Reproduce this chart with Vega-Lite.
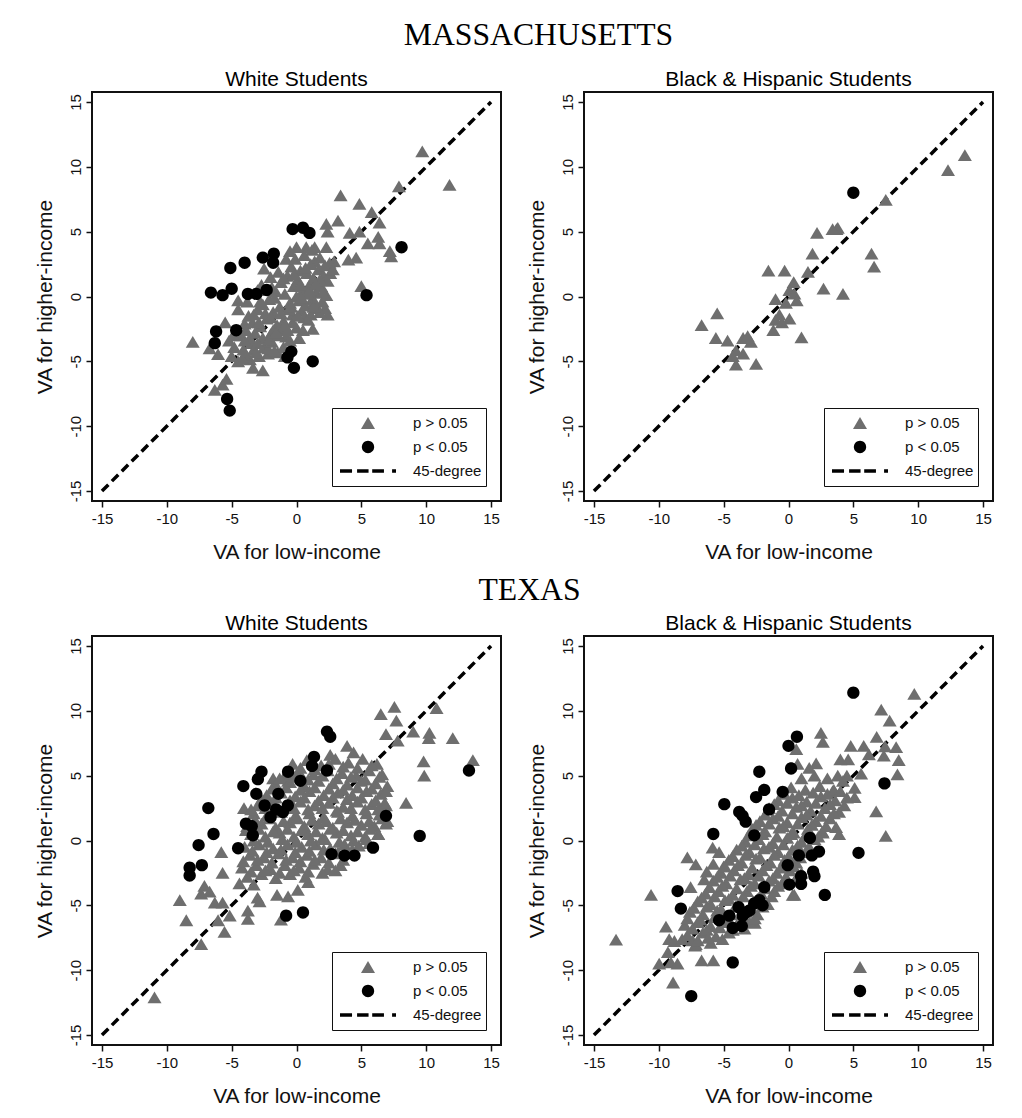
{
  "$schema": "https://vega.github.io/schema/vega-lite/v6.json",
  "background": "white",
  "padding": {"left": 33, "top": 20, "right": 5, "bottom": 5},
  "datasets": {
    "diag": [{"x": -15, "y": -15}, {"x": 15, "y": 15}],
    "maW": [
      {"x":9.7,"y":11.2,"g":"n"},{"x":11.8,"y":8.6,"g":"n"},{"x":7.9,"y":8.5,"g":"n"},{"x":3.4,"y":7.8,"g":"n"},{"x":4.85,"y":7.15,"g":"n"},{"x":5.8,"y":6.5,"g":"n"},{"x":6.4,"y":5.7,"g":"n"},{"x":6.3,"y":4.6,"g":"n"},{"x":5.5,"y":4.1,"g":"n"},{"x":6.4,"y":4.1,"g":"n"},{"x":7.2,"y":3.5,"g":"n"},{"x":7.3,"y":3.1,"g":"n"},{"x":4.6,"y":3.0,"g":"n"},{"x":4.0,"y":2.85,"g":"n"},{"x":3.2,"y":5.85,"g":"n"},{"x":2.3,"y":5.6,"g":"n"},{"x":2.4,"y":5.0,"g":"n"},{"x":4.1,"y":4.9,"g":"n"},{"x":4.85,"y":5.0,"g":"n"},{"x":5.0,"y":0.8,"g":"n"},{"x":1.4,"y":3.8,"g":"n"},{"x":0.75,"y":3.8,"g":"n"},{"x":-0.5,"y":3.5,"g":"n"},{"x":2.3,"y":3.8,"g":"n"},{"x":2.55,"y":2.6,"g":"n"},{"x":2.9,"y":2.7,"g":"n"},{"x":1.4,"y":2.7,"g":"n"},{"x":-8.0,"y":-3.5,"g":"n"},{"x":-6.7,"y":-4.0,"g":"n"},{"x":-6.3,"y":-7.2,"g":"n"},{"x":-5.7,"y":-6.8,"g":"n"},{"x":-5.4,"y":-6.35,"g":"n"},{"x":-4.5,"y":-5.0,"g":"n"},{"x":-3.6,"y":-4.85,"g":"n"},{"x":-3.35,"y":-5.5,"g":"n"},{"x":-2.6,"y":-5.7,"g":"n"},{"x":-2.2,"y":-4.4,"g":"n"},{"x":-1.45,"y":-4.3,"g":"n"},{"x":1.25,"y":-2.5,"g":"n"},{"x":2.4,"y":-1.4,"g":"n"},{"x":2.2,"y":-0.9,"g":"n"},{"x":-2.5,"y":2.15,"g":"n"},{"x":-4.5,"y":-0.3,"g":"n"},{"x":-6.05,"y":-4.45,"g":"n"},
      {"x":-4.8,"y":-3.9,"g":"n"},{"x":-4.3,"y":-3.0,"g":"n"},{"x":-4.0,"y":-2.1,"g":"n"},{"x":-3.7,"y":-1.5,"g":"n"},{"x":-3.5,"y":-3.6,"g":"n"},{"x":-3.2,"y":-2.8,"g":"n"},{"x":-3.0,"y":-1.0,"g":"n"},{"x":-2.8,"y":-2.3,"g":"n"},{"x":-2.6,"y":-0.6,"g":"n"},{"x":-2.5,"y":-3.9,"g":"n"},{"x":-2.3,"y":-1.7,"g":"n"},{"x":-2.1,"y":-0.2,"g":"n"},{"x":-2.0,"y":-2.9,"g":"n"},{"x":-1.8,"y":-1.2,"g":"n"},{"x":-1.6,"y":0.4,"g":"n"},{"x":-1.5,"y":-2.2,"g":"n"},{"x":-1.3,"y":-0.8,"g":"n"},{"x":-1.2,"y":1.1,"g":"n"},{"x":-1.0,"y":-1.9,"g":"n"},{"x":-0.9,"y":0.2,"g":"n"},{"x":-0.8,"y":-3.1,"g":"n"},{"x":-0.7,"y":1.6,"g":"n"},{"x":-0.5,"y":-0.5,"g":"n"},{"x":-0.4,"y":2.3,"g":"n"},{"x":-0.3,"y":-1.4,"g":"n"},{"x":-0.2,"y":0.8,"g":"n"},{"x":-0.1,"y":2.9,"g":"n"},{"x":0.0,"y":-2.4,"g":"n"},{"x":0.1,"y":1.3,"g":"n"},{"x":0.2,"y":-0.3,"g":"n"},{"x":0.3,"y":2.0,"g":"n"},{"x":0.4,"y":-1.1,"g":"n"},{"x":0.5,"y":0.5,"g":"n"},{"x":0.6,"y":3.2,"g":"n"},{"x":0.7,"y":-0.7,"g":"n"},{"x":0.8,"y":1.8,"g":"n"},{"x":0.9,"y":-1.8,"g":"n"},{"x":1.0,"y":0.9,"g":"n"},{"x":1.1,"y":2.5,"g":"n"},{"x":1.2,"y":-0.2,"g":"n"},{"x":1.3,"y":1.4,"g":"n"},{"x":1.5,"y":0.3,"g":"n"},{"x":1.6,"y":-0.9,"g":"n"},{"x":1.7,"y":2.1,"g":"n"},{"x":1.9,"y":0.8,"g":"n"},{"x":2.0,"y":-0.4,"g":"n"},{"x":2.1,"y":1.6,"g":"n"},{"x":2.3,"y":0.1,"g":"n"},{"x":2.4,"y":1.2,"g":"n"},{"x":1.8,"y":3.0,"g":"n"},{"x":-3.9,"y":-4.5,"g":"n"},{"x":-4.2,"y":-4.8,"g":"n"},{"x":-3.3,"y":-4.1,"g":"n"},{"x":-2.9,"y":-4.6,"g":"n"},{"x":-2.2,"y":-4.0,"g":"n"},{"x":-1.9,"y":-3.5,"g":"n"},{"x":-1.0,"y":-3.9,"g":"n"},{"x":-0.5,"y":-3.4,"g":"n"},{"x":0.2,"y":-3.2,"g":"n"},{"x":-5.2,"y":-3.4,"g":"n"},{"x":-5.5,"y":-2.0,"g":"n"},{"x":-4.5,"y":-1.0,"g":"n"},{"x":-3.8,"y":-0.4,"g":"n"},{"x":-2.7,"y":0.9,"g":"n"},{"x":-2.4,"y":-1.3,"g":"n"},{"x":-1.7,"y":-0.1,"g":"n"},{"x":-1.1,"y":-2.6,"g":"n"},{"x":-0.6,"y":-1.0,"g":"n"},{"x":0.0,"y":0.0,"g":"n"},{"x":0.3,"y":0.9,"g":"n"},{"x":0.9,"y":0.2,"g":"n"},{"x":1.4,"y":-0.4,"g":"n"},{"x":2.2,"y":2.4,"g":"n"},{"x":2.6,"y":1.8,"g":"n"},{"x":1.2,"y":3.6,"g":"n"},{"x":0.0,"y":3.8,"g":"n"},{"x":-0.8,"y":2.9,"g":"n"},{"x":-1.4,"y":1.9,"g":"n"},{"x":-2.0,"y":1.5,"g":"n"},{"x":-3.0,"y":0.5,"g":"n"},{"x":-3.4,"y":-2.0,"g":"n"},{"x":-4.6,"y":-2.7,"g":"n"},{"x":-5.0,"y":-4.6,"g":"n"},{"x":-0.3,"y":-2.0,"g":"n"},{"x":0.6,"y":-1.6,"g":"n"},{"x":1.1,"y":-1.4,"g":"n"},{"x":1.8,"y":-1.2,"g":"n"},{"x":-1.8,"y":-2.6,"g":"n"},{"x":-2.6,"y":-3.2,"g":"n"},{"x":-3.6,"y":-3.2,"g":"n"},
      {"x":-4.0,"y":-3.4,"g":"n"},{"x":-3.0,"y":-3.6,"g":"n"},{"x":-2.1,"y":-3.3,"g":"n"},{"x":-1.4,"y":-3.0,"g":"n"},{"x":-0.7,"y":-2.6,"g":"n"},{"x":0.5,"y":-2.6,"g":"n"},{"x":-4.9,"y":-3.0,"g":"n"},{"x":-3.9,"y":-2.6,"g":"n"},{"x":-2.9,"y":-2.0,"g":"n"},{"x":-2.0,"y":-1.6,"g":"n"},{"x":-1.2,"y":-1.3,"g":"n"},{"x":-0.4,"y":-0.8,"g":"n"},{"x":0.4,"y":-0.1,"g":"n"},{"x":1.0,"y":0.5,"g":"n"},{"x":1.8,"y":1.3,"g":"n"},{"x":2.8,"y":2.1,"g":"n"},{"x":-3.3,"y":-1.4,"g":"n"},{"x":-2.8,"y":-0.4,"g":"n"},{"x":-1.9,"y":0.7,"g":"n"},{"x":-1.0,"y":1.4,"g":"n"},{"x":-0.2,"y":1.7,"g":"n"},{"x":0.7,"y":2.2,"g":"n"},{"x":1.5,"y":1.0,"g":"n"},{"x":2.0,"y":0.3,"g":"n"},{"x":-1.6,"y":-2.8,"g":"n"},{"x":-0.9,"y":-2.2,"g":"n"},{"x":0.1,"y":-1.5,"g":"n"},{"x":1.3,"y":-0.8,"g":"n"},{"x":-4.1,"y":-4.1,"g":"n"},{"x":-3.1,"y":-4.3,"g":"n"},{"x":-1.7,"y":-4.2,"g":"n"},{"x":-0.9,"y":-4.6,"g":"n"},
      {"x":-6.6,"y":0.3,"g":"s"},{"x":-5.7,"y":0.1,"g":"s"},{"x":-5.0,"y":0.6,"g":"s"},{"x":-5.1,"y":2.2,"g":"s"},{"x":-4.0,"y":2.6,"g":"s"},{"x":-3.75,"y":0.2,"g":"s"},{"x":-3.1,"y":0.2,"g":"s"},{"x":-2.3,"y":0.5,"g":"s"},{"x":-2.6,"y":3.0,"g":"s"},{"x":-1.75,"y":3.3,"g":"s"},{"x":-1.8,"y":2.6,"g":"s"},{"x":-0.3,"y":5.2,"g":"s"},{"x":0.5,"y":5.3,"g":"s"},{"x":1.0,"y":4.9,"g":"s"},{"x":8.1,"y":3.8,"g":"s"},{"x":5.4,"y":0.1,"g":"s"},{"x":-6.2,"y":-2.7,"g":"s"},{"x":-4.65,"y":-2.6,"g":"s"},{"x":-6.3,"y":-3.6,"g":"s"},{"x":-0.7,"y":-4.7,"g":"s"},{"x":-0.4,"y":-4.25,"g":"s"},{"x":-0.2,"y":-5.5,"g":"s"},{"x":1.25,"y":-5.0,"g":"s"},{"x":-5.35,"y":-7.9,"g":"s"},{"x":-5.15,"y":-8.8,"g":"s"}
    ],
    "maB": [
      {"x":13.6,"y":10.9,"g":"n"},{"x":12.3,"y":9.75,"g":"n"},{"x":7.5,"y":7.45,"g":"n"},{"x":3.7,"y":5.2,"g":"n"},{"x":3.8,"y":5.3,"g":"n"},{"x":3.4,"y":5.2,"g":"n"},{"x":2.2,"y":4.9,"g":"n"},{"x":1.85,"y":3.3,"g":"n"},{"x":1.5,"y":1.9,"g":"n"},{"x":6.4,"y":3.3,"g":"n"},{"x":6.6,"y":2.3,"g":"n"},{"x":2.7,"y":0.6,"g":"n"},{"x":4.2,"y":0.2,"g":"n"},{"x":-0.3,"y":2.0,"g":"n"},{"x":-1.55,"y":2.0,"g":"n"},{"x":0.4,"y":1.1,"g":"n"},{"x":0.07,"y":0.5,"g":"n"},{"x":0.45,"y":0.23,"g":"n"},{"x":0.63,"y":-0.3,"g":"n"},{"x":-1.0,"y":-0.2,"g":"n"},{"x":-0.2,"y":-0.5,"g":"n"},{"x":-0.7,"y":-1.4,"g":"n"},{"x":-1.0,"y":-1.8,"g":"n"},{"x":-0.5,"y":-2.0,"g":"n"},{"x":0.07,"y":-1.7,"g":"n"},{"x":-1.17,"y":-2.6,"g":"n"},{"x":1.0,"y":-3.15,"g":"n"},{"x":-5.5,"y":-1.3,"g":"n"},{"x":-6.7,"y":-2.2,"g":"n"},{"x":-5.6,"y":-3.2,"g":"n"},{"x":-4.7,"y":-3.4,"g":"n"},{"x":-3.5,"y":-3.2,"g":"n"},{"x":-2.9,"y":-3.5,"g":"n"},{"x":-3.15,"y":-3.05,"g":"n"},{"x":-4.05,"y":-4.15,"g":"n"},{"x":-3.5,"y":-4.4,"g":"n"},{"x":-4.05,"y":-5.25,"g":"n"},{"x":-2.5,"y":-5.2,"g":"n"},{"x":-4.3,"y":-4.6,"g":"n"},
      {"x":5.0,"y":8.0,"g":"s"}
    ],
    "txW": [
      {"x":7.55,"y":10.3,"g":"n"},{"x":6.5,"y":9.75,"g":"n"},{"x":7.7,"y":9.25,"g":"n"},{"x":10.8,"y":10.2,"g":"n"},{"x":9.0,"y":8.4,"g":"n"},{"x":10.25,"y":8.3,"g":"n"},{"x":10.2,"y":7.9,"g":"n"},{"x":12.05,"y":7.9,"g":"n"},{"x":6.9,"y":8.2,"g":"n"},{"x":7.8,"y":7.7,"g":"n"},{"x":9.8,"y":6.1,"g":"n"},{"x":9.85,"y":5.0,"g":"n"},{"x":13.6,"y":6.2,"g":"n"},{"x":8.45,"y":2.9,"g":"n"},{"x":6.3,"y":0.5,"g":"n"},{"x":6.9,"y":2.7,"g":"n"},{"x":6.9,"y":1.3,"g":"n"},{"x":-4.05,"y":2.5,"g":"n"},{"x":-5.8,"y":-0.9,"g":"n"},{"x":-5.7,"y":-2.5,"g":"n"},{"x":-9.0,"y":-4.6,"g":"n"},{"x":-8.5,"y":-6.15,"g":"n"},{"x":-7.35,"y":-8.0,"g":"n"},{"x":-5.55,"y":-7.05,"g":"n"},{"x":-7.1,"y":-3.5,"g":"n"},{"x":-6.7,"y":-3.95,"g":"n"},{"x":-7.35,"y":-4.1,"g":"n"},{"x":-6.3,"y":-4.8,"g":"n"},{"x":-5.7,"y":-4.8,"g":"n"},{"x":-6.05,"y":-6.15,"g":"n"},{"x":-5.15,"y":-5.8,"g":"n"},{"x":-3.75,"y":-6.05,"g":"n"},{"x":-3.75,"y":-5.4,"g":"n"},{"x":-3.0,"y":-4.4,"g":"n"},{"x":-2.85,"y":-4.7,"g":"n"},{"x":-1.5,"y":-4.2,"g":"n"},{"x":-0.65,"y":-4.3,"g":"n"},{"x":0.1,"y":-3.8,"g":"n"},{"x":0.9,"y":-3.2,"g":"n"},{"x":-1.2,"y":-6.1,"g":"n"},{"x":-10.95,"y":-12.1,"g":"n"},{"x":-1.8,"y":4.8,"g":"n"},{"x":-0.65,"y":4.6,"g":"n"},
      {"x":-0.3,"y":5.9,"g":"n"},{"x":0.8,"y":6.2,"g":"n"},{"x":1.9,"y":5.8,"g":"n"},{"x":3.0,"y":6.3,"g":"n"},{"x":4.0,"y":6.0,"g":"n"},{"x":5.1,"y":6.3,"g":"n"},{"x":6.2,"y":5.9,"g":"n"},{"x":3.9,"y":7.3,"g":"n"},{"x":4.4,"y":6.8,"g":"n"},{"x":2.6,"y":6.6,"g":"n"},
      {"x":-0.9,"y":5.0,"g":"n"},{"x":0.2,"y":5.3,"g":"n"},{"x":1.3,"y":5.1,"g":"n"},{"x":2.4,"y":5.4,"g":"n"},{"x":3.5,"y":5.2,"g":"n"},{"x":4.6,"y":5.0,"g":"n"},{"x":5.6,"y":5.4,"g":"n"},{"x":6.6,"y":5.1,"g":"n"},
      {"x":-1.6,"y":4.3,"g":"n"},{"x":-0.5,"y":4.5,"g":"n"},{"x":0.6,"y":4.2,"g":"n"},{"x":1.7,"y":4.6,"g":"n"},{"x":2.8,"y":4.4,"g":"n"},{"x":3.9,"y":4.3,"g":"n"},{"x":5.0,"y":4.6,"g":"n"},{"x":6.1,"y":4.4,"g":"n"},{"x":7.0,"y":4.2,"g":"n"},
      {"x":-2.3,"y":3.5,"g":"n"},{"x":-1.2,"y":3.7,"g":"n"},{"x":-0.1,"y":3.4,"g":"n"},{"x":1.0,"y":3.8,"g":"n"},{"x":2.1,"y":3.5,"g":"n"},{"x":3.2,"y":3.7,"g":"n"},{"x":4.3,"y":3.5,"g":"n"},{"x":5.4,"y":3.8,"g":"n"},{"x":6.5,"y":3.6,"g":"n"},
      {"x":-3.0,"y":2.7,"g":"n"},{"x":-1.9,"y":2.9,"g":"n"},{"x":-0.8,"y":2.6,"g":"n"},{"x":0.3,"y":3.0,"g":"n"},{"x":1.4,"y":2.7,"g":"n"},{"x":2.5,"y":2.9,"g":"n"},{"x":3.6,"y":2.6,"g":"n"},{"x":4.7,"y":3.0,"g":"n"},{"x":5.8,"y":2.8,"g":"n"},{"x":6.8,"y":2.9,"g":"n"},
      {"x":-3.3,"y":2.1,"g":"n"},{"x":-2.3,"y":1.9,"g":"n"},{"x":-1.2,"y":2.2,"g":"n"},{"x":-0.1,"y":1.9,"g":"n"},{"x":1.0,"y":2.1,"g":"n"},{"x":2.1,"y":1.8,"g":"n"},{"x":3.2,"y":2.2,"g":"n"},{"x":4.3,"y":1.9,"g":"n"},{"x":5.4,"y":2.1,"g":"n"},{"x":6.4,"y":2.0,"g":"n"},
      {"x":-3.8,"y":1.1,"g":"n"},{"x":-2.7,"y":1.3,"g":"n"},{"x":-1.6,"y":1.0,"g":"n"},{"x":-0.5,"y":1.4,"g":"n"},{"x":0.6,"y":1.1,"g":"n"},{"x":1.7,"y":1.3,"g":"n"},{"x":2.8,"y":1.0,"g":"n"},{"x":3.9,"y":1.4,"g":"n"},{"x":5.0,"y":1.2,"g":"n"},{"x":6.0,"y":1.1,"g":"n"},{"x":7.0,"y":1.5,"g":"n"},
      {"x":-3.5,"y":0.5,"g":"n"},{"x":-2.4,"y":0.3,"g":"n"},{"x":-1.3,"y":0.6,"g":"n"},{"x":-0.2,"y":0.3,"g":"n"},{"x":0.9,"y":0.5,"g":"n"},{"x":2.0,"y":0.2,"g":"n"},{"x":3.1,"y":0.6,"g":"n"},{"x":4.2,"y":0.4,"g":"n"},{"x":5.3,"y":0.3,"g":"n"},{"x":6.3,"y":0.5,"g":"n"},
      {"x":-4.0,"y":-0.5,"g":"n"},{"x":-2.9,"y":-0.3,"g":"n"},{"x":-1.8,"y":-0.6,"g":"n"},{"x":-0.7,"y":-0.3,"g":"n"},{"x":0.4,"y":-0.5,"g":"n"},{"x":1.5,"y":-0.3,"g":"n"},{"x":2.6,"y":-0.6,"g":"n"},{"x":3.7,"y":-0.3,"g":"n"},{"x":4.8,"y":-0.4,"g":"n"},{"x":5.6,"y":-0.2,"g":"n"},
      {"x":-3.6,"y":-1.1,"g":"n"},{"x":-2.5,"y":-1.3,"g":"n"},{"x":-1.4,"y":-1.0,"g":"n"},{"x":-0.3,"y":-1.3,"g":"n"},{"x":0.8,"y":-1.1,"g":"n"},{"x":1.9,"y":-1.3,"g":"n"},{"x":3.0,"y":-1.0,"g":"n"},{"x":4.0,"y":-0.9,"g":"n"},
      {"x":-4.2,"y":-2.1,"g":"n"},{"x":-3.1,"y":-1.9,"g":"n"},{"x":-2.0,"y":-2.2,"g":"n"},{"x":-0.9,"y":-1.9,"g":"n"},{"x":0.2,"y":-2.1,"g":"n"},{"x":1.3,"y":-1.8,"g":"n"},{"x":2.4,"y":-2.2,"g":"n"},{"x":3.4,"y":-1.9,"g":"n"},
      {"x":-3.8,"y":-2.8,"g":"n"},{"x":-2.7,"y":-2.6,"g":"n"},{"x":-1.6,"y":-2.9,"g":"n"},{"x":-0.5,"y":-2.6,"g":"n"},{"x":0.7,"y":-2.8,"g":"n"},{"x":-4.4,"y":-3.3,"g":"n"},{"x":-3.3,"y":-3.4,"g":"n"},
      {"x":0.3,"y":5.6,"g":"n"},{"x":1.4,"y":5.5,"g":"n"},{"x":2.5,"y":5.9,"g":"n"},{"x":3.6,"y":5.7,"g":"n"},{"x":4.7,"y":5.6,"g":"n"},{"x":5.8,"y":5.8,"g":"n"},
      {"x":-1.3,"y":4.8,"g":"n"},{"x":-0.2,"y":4.9,"g":"n"},{"x":0.9,"y":4.7,"g":"n"},{"x":2.0,"y":5.0,"g":"n"},{"x":3.1,"y":4.8,"g":"n"},{"x":4.2,"y":4.9,"g":"n"},{"x":5.3,"y":4.7,"g":"n"},{"x":6.4,"y":4.9,"g":"n"},
      {"x":-1.9,"y":4.0,"g":"n"},{"x":-0.8,"y":4.1,"g":"n"},{"x":0.3,"y":3.9,"g":"n"},{"x":1.4,"y":4.1,"g":"n"},{"x":2.5,"y":4.0,"g":"n"},{"x":3.6,"y":3.9,"g":"n"},{"x":4.7,"y":4.1,"g":"n"},{"x":5.8,"y":4.0,"g":"n"},{"x":6.9,"y":3.8,"g":"n"},
      {"x":-2.7,"y":3.2,"g":"n"},{"x":-1.6,"y":3.3,"g":"n"},{"x":-0.5,"y":3.1,"g":"n"},{"x":0.6,"y":3.3,"g":"n"},{"x":1.7,"y":3.1,"g":"n"},{"x":2.8,"y":3.3,"g":"n"},{"x":3.9,"y":3.2,"g":"n"},{"x":5.0,"y":3.3,"g":"n"},{"x":6.1,"y":3.1,"g":"n"},
      {"x":-3.5,"y":2.4,"g":"n"},{"x":-2.4,"y":2.5,"g":"n"},{"x":-1.3,"y":2.3,"g":"n"},{"x":-0.2,"y":2.5,"g":"n"},{"x":0.9,"y":2.4,"g":"n"},{"x":2.0,"y":2.5,"g":"n"},{"x":3.1,"y":2.3,"g":"n"},{"x":4.2,"y":2.5,"g":"n"},{"x":5.3,"y":2.4,"g":"n"},{"x":6.3,"y":2.4,"g":"n"},
      {"x":-3.2,"y":1.6,"g":"n"},{"x":-2.1,"y":1.7,"g":"n"},{"x":-1.0,"y":1.5,"g":"n"},{"x":0.1,"y":1.7,"g":"n"},{"x":1.2,"y":1.6,"g":"n"},{"x":2.3,"y":1.5,"g":"n"},{"x":3.4,"y":1.7,"g":"n"},{"x":4.5,"y":1.6,"g":"n"},{"x":5.6,"y":1.5,"g":"n"},{"x":6.6,"y":1.7,"g":"n"},
      {"x":-3.9,"y":0.8,"g":"n"},{"x":-2.9,"y":0.9,"g":"n"},{"x":-1.8,"y":0.7,"g":"n"},{"x":-0.7,"y":0.9,"g":"n"},{"x":0.4,"y":0.8,"g":"n"},{"x":1.5,"y":0.7,"g":"n"},{"x":2.6,"y":0.9,"g":"n"},{"x":3.6,"y":0.8,"g":"n"},{"x":4.7,"y":0.7,"g":"n"},{"x":5.7,"y":0.9,"g":"n"},
      {"x":-3.3,"y":0.0,"g":"n"},{"x":-2.2,"y":-0.1,"g":"n"},{"x":-1.1,"y":0.1,"g":"n"},{"x":0.0,"y":-0.1,"g":"n"},{"x":1.1,"y":0.0,"g":"n"},{"x":2.2,"y":0.1,"g":"n"},{"x":3.3,"y":-0.1,"g":"n"},{"x":4.4,"y":0.0,"g":"n"},{"x":5.4,"y":0.1,"g":"n"},
      {"x":-3.4,"y":-0.8,"g":"n"},{"x":-2.3,"y":-0.9,"g":"n"},{"x":-1.2,"y":-0.7,"g":"n"},{"x":-0.1,"y":-0.9,"g":"n"},{"x":1.0,"y":-0.8,"g":"n"},{"x":2.1,"y":-0.7,"g":"n"},{"x":3.2,"y":-0.9,"g":"n"},{"x":4.3,"y":-0.7,"g":"n"},
      {"x":-4.1,"y":-1.6,"g":"n"},{"x":-3.0,"y":-1.5,"g":"n"},{"x":-1.9,"y":-1.7,"g":"n"},{"x":-0.8,"y":-1.5,"g":"n"},{"x":0.3,"y":-1.6,"g":"n"},{"x":1.4,"y":-1.5,"g":"n"},{"x":2.5,"y":-1.7,"g":"n"},{"x":3.6,"y":-1.5,"g":"n"},
      {"x":-3.5,"y":-2.4,"g":"n"},{"x":-2.4,"y":-2.3,"g":"n"},{"x":-1.3,"y":-2.5,"g":"n"},{"x":-0.2,"y":-2.3,"g":"n"},{"x":0.9,"y":-2.4,"g":"n"},{"x":2.0,"y":-2.5,"g":"n"},{"x":3.0,"y":-2.3,"g":"n"},
      {"x":2.35,"y":8.4,"g":"s"},{"x":2.6,"y":8.0,"g":"s"},{"x":1.35,"y":6.45,"g":"s"},{"x":1.2,"y":5.75,"g":"s"},{"x":2.35,"y":5.4,"g":"s"},{"x":0.3,"y":4.6,"g":"s"},{"x":-0.65,"y":5.3,"g":"s"},{"x":-2.7,"y":5.3,"g":"s"},{"x":-2.98,"y":4.73,"g":"s"},{"x":-4.1,"y":4.2,"g":"s"},{"x":-3.1,"y":3.6,"g":"s"},{"x":-1.4,"y":3.6,"g":"s"},{"x":-2.46,"y":2.7,"g":"s"},{"x":-2.0,"y":1.8,"g":"s"},{"x":-1.57,"y":2.4,"g":"s"},{"x":-1.05,"y":2.2,"g":"s"},{"x":-0.67,"y":2.7,"g":"s"},{"x":-3.9,"y":1.3,"g":"s"},{"x":-3.45,"y":1.1,"g":"s"},{"x":-3.37,"y":0.4,"g":"s"},{"x":-6.8,"y":2.5,"g":"s"},{"x":-6.4,"y":0.5,"g":"s"},{"x":-7.55,"y":-0.35,"g":"s"},{"x":-7.3,"y":-1.9,"g":"s"},{"x":-8.24,"y":-2.1,"g":"s"},{"x":-8.24,"y":-2.7,"g":"s"},{"x":-4.5,"y":-0.6,"g":"s"},{"x":-0.8,"y":-5.8,"g":"s"},{"x":0.5,"y":-5.55,"g":"s"},{"x":2.7,"y":-1.05,"g":"s"},{"x":3.7,"y":-1.16,"g":"s"},{"x":4.47,"y":-1.16,"g":"s"},{"x":5.9,"y":-0.55,"g":"s"},{"x":6.9,"y":1.9,"g":"s"},{"x":9.5,"y":0.35,"g":"s"},{"x":13.3,"y":5.4,"g":"s"}
    ],
    "txB": [
      {"x":9.7,"y":11.3,"g":"n"},{"x":7.15,"y":10.1,"g":"n"},{"x":7.8,"y":9.25,"g":"n"},{"x":2.5,"y":8.3,"g":"n"},{"x":2.65,"y":7.6,"g":"n"},{"x":0.6,"y":7.05,"g":"n"},{"x":4.8,"y":7.3,"g":"n"},{"x":5.8,"y":7.3,"g":"n"},{"x":6.8,"y":8.0,"g":"n"},{"x":7.45,"y":7.25,"g":"n"},{"x":8.3,"y":7.2,"g":"n"},{"x":7.35,"y":6.55,"g":"n"},{"x":8.5,"y":6.2,"g":"n"},{"x":8.4,"y":5.1,"g":"n"},{"x":6.2,"y":6.65,"g":"n"},{"x":4.6,"y":6.25,"g":"n"},{"x":4.0,"y":6.25,"g":"n"},{"x":2.13,"y":5.95,"g":"n"},{"x":5.6,"y":5.15,"g":"n"},{"x":5.1,"y":4.05,"g":"n"},{"x":5.1,"y":3.35,"g":"n"},{"x":6.76,"y":2.25,"g":"n"},{"x":7.5,"y":0.35,"g":"n"},{"x":3.9,"y":0.5,"g":"n"},{"x":3.67,"y":1.03,"g":"n"},{"x":2.64,"y":0.6,"g":"n"},{"x":0.33,"y":-4.2,"g":"n"},{"x":-10.6,"y":-4.2,"g":"n"},{"x":-13.3,"y":-7.65,"g":"n"},{"x":-9.45,"y":-6.65,"g":"n"},{"x":-9.2,"y":-7.6,"g":"n"},{"x":-8.8,"y":-7.75,"g":"n"},{"x":-9.97,"y":-9.5,"g":"n"},{"x":-9.3,"y":-8.6,"g":"n"},{"x":-9.07,"y":-9.4,"g":"n"},{"x":-8.56,"y":-9.5,"g":"n"},{"x":-8.9,"y":-10.95,"g":"n"},{"x":-7.4,"y":-7.7,"g":"n"},{"x":-7.15,"y":-8.0,"g":"n"},{"x":-6.7,"y":-9.25,"g":"n"},{"x":-5.8,"y":-9.25,"g":"n"},{"x":-7.8,"y":-1.3,"g":"n"},{"x":-7.15,"y":-1.85,"g":"n"},{"x":-6.3,"y":-2.4,"g":"n"},{"x":-5.85,"y":-0.55,"g":"n"},{"x":-5.35,"y":-0.9,"g":"n"},{"x":-7.55,"y":-3.6,"g":"n"},{"x":-2.6,"y":-6.35,"g":"n"},{"x":0.45,"y":-4.2,"g":"n"},
      {"x":3.0,"y":4.8,"g":"n"},{"x":3.8,"y":5.0,"g":"n"},{"x":4.5,"y":5.0,"g":"n"},{"x":2.0,"y":5.0,"g":"n"},{"x":1.6,"y":5.6,"g":"n"},{"x":0.7,"y":5.9,"g":"n"},{"x":3.4,"y":3.8,"g":"n"},{"x":-6.5,"y":-3.0,"g":"n"},{"x":-5.0,"y":-2.0,"g":"n"},{"x":-5.8,"y":-1.8,"g":"n"},
      {"x":0.2,"y":4.1,"g":"n"},{"x":1.3,"y":3.9,"g":"n"},{"x":2.4,"y":4.2,"g":"n"},{"x":3.5,"y":3.9,"g":"n"},{"x":1.0,"y":4.8,"g":"n"},{"x":4.2,"y":4.6,"g":"n"},
      {"x":-0.8,"y":3.1,"g":"n"},{"x":0.3,"y":3.3,"g":"n"},{"x":1.4,"y":3.0,"g":"n"},{"x":2.5,"y":3.4,"g":"n"},{"x":3.6,"y":3.1,"g":"n"},{"x":4.5,"y":3.3,"g":"n"},
      {"x":-1.5,"y":2.5,"g":"n"},{"x":-0.5,"y":2.3,"g":"n"},{"x":0.6,"y":2.6,"g":"n"},{"x":1.7,"y":2.3,"g":"n"},{"x":2.8,"y":2.5,"g":"n"},{"x":3.9,"y":2.2,"g":"n"},
      {"x":-2.2,"y":1.5,"g":"n"},{"x":-1.2,"y":1.7,"g":"n"},{"x":-0.1,"y":1.4,"g":"n"},{"x":1.0,"y":1.8,"g":"n"},{"x":2.1,"y":1.5,"g":"n"},{"x":3.2,"y":1.7,"g":"n"},
      {"x":-2.8,"y":0.9,"g":"n"},{"x":-1.8,"y":0.7,"g":"n"},{"x":-0.7,"y":1.0,"g":"n"},{"x":0.4,"y":0.6,"g":"n"},{"x":1.5,"y":0.9,"g":"n"},{"x":2.6,"y":0.7,"g":"n"},
      {"x":-3.3,"y":-0.1,"g":"n"},{"x":-2.3,"y":0.1,"g":"n"},{"x":-1.2,"y":-0.2,"g":"n"},{"x":-0.1,"y":0.2,"g":"n"},{"x":1.0,"y":-0.1,"g":"n"},{"x":2.0,"y":0.1,"g":"n"},
      {"x":-4.0,"y":-0.7,"g":"n"},{"x":-3.0,"y":-0.9,"g":"n"},{"x":-1.9,"y":-0.6,"g":"n"},{"x":-0.8,"y":-0.9,"g":"n"},{"x":0.3,"y":-0.7,"g":"n"},{"x":1.3,"y":-0.9,"g":"n"},
      {"x":-4.6,"y":-1.5,"g":"n"},{"x":-3.6,"y":-1.7,"g":"n"},{"x":-2.5,"y":-1.4,"g":"n"},{"x":-1.4,"y":-1.7,"g":"n"},{"x":-0.3,"y":-1.5,"g":"n"},{"x":0.6,"y":-1.7,"g":"n"},
      {"x":-5.2,"y":-2.5,"g":"n"},{"x":-4.2,"y":-2.3,"g":"n"},{"x":-3.1,"y":-2.6,"g":"n"},{"x":-2.0,"y":-2.3,"g":"n"},{"x":-0.9,"y":-2.5,"g":"n"},{"x":0.1,"y":-2.3,"g":"n"},{"x":1.0,"y":-2.5,"g":"n"},
      {"x":-5.8,"y":-3.1,"g":"n"},{"x":-4.8,"y":-3.3,"g":"n"},{"x":-3.7,"y":-3.0,"g":"n"},{"x":-2.6,"y":-3.3,"g":"n"},{"x":-1.5,"y":-3.1,"g":"n"},{"x":-0.5,"y":-3.3,"g":"n"},
      {"x":-6.4,"y":-4.1,"g":"n"},{"x":-5.4,"y":-3.9,"g":"n"},{"x":-4.3,"y":-4.2,"g":"n"},{"x":-3.2,"y":-3.9,"g":"n"},{"x":-2.1,"y":-4.1,"g":"n"},{"x":-1.1,"y":-3.9,"g":"n"},
      {"x":-7.0,"y":-4.7,"g":"n"},{"x":-6.0,"y":-4.9,"g":"n"},{"x":-4.9,"y":-4.6,"g":"n"},{"x":-3.8,"y":-4.9,"g":"n"},{"x":-2.7,"y":-4.7,"g":"n"},{"x":-1.6,"y":-4.9,"g":"n"},
      {"x":-7.6,"y":-5.5,"g":"n"},{"x":-6.6,"y":-5.7,"g":"n"},{"x":-5.5,"y":-5.4,"g":"n"},{"x":-4.4,"y":-5.7,"g":"n"},{"x":-3.3,"y":-5.5,"g":"n"},{"x":-2.4,"y":-5.7,"g":"n"},
      {"x":-8.0,"y":-6.5,"g":"n"},{"x":-7.0,"y":-6.3,"g":"n"},{"x":-6.0,"y":-6.6,"g":"n"},{"x":-5.0,"y":-6.3,"g":"n"},{"x":-4.0,"y":-6.5,"g":"n"},{"x":-3.0,"y":-6.3,"g":"n"},
      {"x":-7.8,"y":-7.3,"g":"n"},{"x":-6.6,"y":-7.1,"g":"n"},{"x":-5.6,"y":-7.4,"g":"n"},{"x":-4.6,"y":-7.1,"g":"n"},{"x":-7.2,"y":-8.1,"g":"n"},{"x":-6.0,"y":-7.9,"g":"n"},
      {"x":-0.3,"y":3.6,"g":"n"},{"x":0.8,"y":3.5,"g":"n"},{"x":1.9,"y":3.7,"g":"n"},{"x":3.0,"y":3.6,"g":"n"},{"x":4.0,"y":3.8,"g":"n"},
      {"x":-1.1,"y":2.8,"g":"n"},{"x":-0.1,"y":2.9,"g":"n"},{"x":1.0,"y":2.7,"g":"n"},{"x":2.1,"y":2.9,"g":"n"},{"x":3.2,"y":2.8,"g":"n"},{"x":4.3,"y":2.7,"g":"n"},
      {"x":-1.8,"y":2.0,"g":"n"},{"x":-0.8,"y":1.9,"g":"n"},{"x":0.3,"y":2.1,"g":"n"},{"x":1.4,"y":2.0,"g":"n"},{"x":2.5,"y":1.9,"g":"n"},{"x":3.5,"y":2.1,"g":"n"},
      {"x":-2.5,"y":1.2,"g":"n"},{"x":-1.5,"y":1.3,"g":"n"},{"x":-0.4,"y":1.1,"g":"n"},{"x":0.7,"y":1.3,"g":"n"},{"x":1.8,"y":1.2,"g":"n"},{"x":2.9,"y":1.1,"g":"n"},
      {"x":-3.1,"y":0.4,"g":"n"},{"x":-2.0,"y":0.5,"g":"n"},{"x":-0.9,"y":0.3,"g":"n"},{"x":0.2,"y":0.5,"g":"n"},{"x":1.3,"y":0.4,"g":"n"},{"x":2.3,"y":0.3,"g":"n"},
      {"x":-3.6,"y":-0.4,"g":"n"},{"x":-2.6,"y":-0.3,"g":"n"},{"x":-1.5,"y":-0.5,"g":"n"},{"x":-0.4,"y":-0.3,"g":"n"},{"x":0.7,"y":-0.4,"g":"n"},{"x":1.6,"y":-0.5,"g":"n"},
      {"x":-4.3,"y":-1.2,"g":"n"},{"x":-3.3,"y":-1.1,"g":"n"},{"x":-2.2,"y":-1.3,"g":"n"},{"x":-1.1,"y":-1.1,"g":"n"},{"x":0.0,"y":-1.2,"g":"n"},{"x":0.9,"y":-1.3,"g":"n"},
      {"x":-4.9,"y":-2.0,"g":"n"},{"x":-3.9,"y":-1.9,"g":"n"},{"x":-2.8,"y":-2.1,"g":"n"},{"x":-1.7,"y":-1.9,"g":"n"},{"x":-0.6,"y":-2.1,"g":"n"},{"x":0.4,"y":-2.0,"g":"n"},
      {"x":-5.5,"y":-2.8,"g":"n"},{"x":-4.5,"y":-2.7,"g":"n"},{"x":-3.4,"y":-2.9,"g":"n"},{"x":-2.3,"y":-2.7,"g":"n"},{"x":-1.2,"y":-2.9,"g":"n"},{"x":-0.2,"y":-2.8,"g":"n"},{"x":0.7,"y":-2.7,"g":"n"},
      {"x":-6.1,"y":-3.6,"g":"n"},{"x":-5.1,"y":-3.5,"g":"n"},{"x":-4.0,"y":-3.7,"g":"n"},{"x":-2.9,"y":-3.5,"g":"n"},{"x":-1.8,"y":-3.7,"g":"n"},{"x":-0.8,"y":-3.5,"g":"n"},
      {"x":-6.7,"y":-4.4,"g":"n"},{"x":-5.7,"y":-4.3,"g":"n"},{"x":-4.6,"y":-4.5,"g":"n"},{"x":-3.5,"y":-4.3,"g":"n"},{"x":-2.4,"y":-4.5,"g":"n"},{"x":-1.3,"y":-4.3,"g":"n"},
      {"x":-7.3,"y":-5.2,"g":"n"},{"x":-6.3,"y":-5.1,"g":"n"},{"x":-5.2,"y":-5.3,"g":"n"},{"x":-4.1,"y":-5.1,"g":"n"},{"x":-3.0,"y":-5.3,"g":"n"},{"x":-2.0,"y":-5.1,"g":"n"},
      {"x":-7.8,"y":-6.0,"g":"n"},{"x":-6.8,"y":-6.1,"g":"n"},{"x":-5.7,"y":-5.9,"g":"n"},{"x":-4.6,"y":-6.1,"g":"n"},{"x":-3.5,"y":-5.9,"g":"n"},{"x":-2.6,"y":-6.0,"g":"n"},
      {"x":-7.4,"y":-6.8,"g":"n"},{"x":-6.3,"y":-6.9,"g":"n"},{"x":-5.3,"y":-6.7,"g":"n"},{"x":-4.3,"y":-6.9,"g":"n"},{"x":-3.4,"y":-6.8,"g":"n"},
      {"x":-8.2,"y":-7.6,"g":"n"},{"x":-7.0,"y":-7.7,"g":"n"},{"x":-6.2,"y":-7.5,"g":"n"},{"x":-5.1,"y":-7.6,"g":"n"},
      {"x":5.0,"y":11.4,"g":"s"},{"x":0.65,"y":8.0,"g":"s"},{"x":0.0,"y":7.3,"g":"s"},{"x":0.2,"y":5.55,"g":"s"},{"x":-2.25,"y":5.3,"g":"s"},{"x":-1.87,"y":3.9,"g":"s"},{"x":-2.5,"y":3.35,"g":"s"},{"x":-0.45,"y":3.75,"g":"s"},{"x":-1.5,"y":2.4,"g":"s"},{"x":-4.95,"y":2.8,"g":"s"},{"x":-3.8,"y":2.2,"g":"s"},{"x":-3.54,"y":1.9,"g":"s"},{"x":-3.3,"y":1.45,"g":"s"},{"x":-5.8,"y":0.5,"g":"s"},{"x":-2.64,"y":0.4,"g":"s"},{"x":1.65,"y":0.2,"g":"s"},{"x":0.8,"y":-1.15,"g":"s"},{"x":1.8,"y":-1.15,"g":"s"},{"x":2.35,"y":-0.85,"g":"s"},{"x":-0.06,"y":-1.9,"g":"s"},{"x":1.9,"y":-2.4,"g":"s"},{"x":2.0,"y":-2.75,"g":"s"},{"x":0.97,"y":-2.75,"g":"s"},{"x":0.97,"y":-3.35,"g":"s"},{"x":0.07,"y":-3.4,"g":"s"},{"x":2.8,"y":-4.2,"g":"s"},{"x":5.4,"y":-0.95,"g":"s"},{"x":7.4,"y":4.4,"g":"s"},{"x":-1.87,"y":-3.6,"g":"s"},{"x":-2.0,"y":-5.0,"g":"s"},{"x":-2.25,"y":-4.6,"g":"s"},{"x":-2.64,"y":-4.85,"g":"s"},{"x":-3.0,"y":-5.4,"g":"s"},{"x":-3.3,"y":-5.55,"g":"s"},{"x":-3.85,"y":-5.15,"g":"s"},{"x":-3.54,"y":-5.8,"g":"s"},{"x":-4.57,"y":-5.8,"g":"s"},{"x":-5.35,"y":-6.15,"g":"s"},{"x":-4.3,"y":-6.75,"g":"s"},{"x":-3.6,"y":-6.6,"g":"s"},{"x":-8.55,"y":-3.9,"g":"s"},{"x":-8.3,"y":-5.25,"g":"s"},{"x":-4.3,"y":-9.4,"g":"s"},{"x":-7.5,"y":-12.0,"g":"s"}
    ]
  },
  "vconcat": [
    {
      "title": {"text": "MASSACHUSETTS", "font": "Liberation Serif", "fontSize": 31.7, "fontWeight": "normal", "color": "black", "anchor": "middle", "dx": 25, "offset": 16},
      "hconcat": [
        {
          "width": 409, "height": 409,
          "title": {"text": "White Students", "fontSize": 21, "font": "Liberation Sans", "fontWeight": "normal", "color": "black", "offset": 2},
          "layer": [
            {"data": {"name": "diag"}, "mark": {"type": "line", "color": "black", "strokeWidth": 3.5, "strokeDash": [9, 5]},
             "encoding": {"x": {"field": "x", "type": "quantitative", "scale": {"domain": [-15.77, 15.77], "nice": false, "zero": false}, "axis": {"values": [-15, -10, -5, 0, 5, 10, 15]}, "title": "VA for low-income"},
                          "y": {"field": "y", "type": "quantitative", "scale": {"domain": [-15.77, 15.77], "nice": false, "zero": false}, "axis": {"values": [-15, -10, -5, 0, 5, 10, 15]}, "title": "VA for higher-income"}}},
            {"data": {"name": "maW"}, "mark": {"type": "point", "filled": true, "opacity": 1, "size": 3136, "strokeWidth": 0},
             "encoding": {"x": {"field": "x", "type": "quantitative"}, "y": {"field": "y", "type": "quantitative"},
                          "shape": {"field": "g", "type": "nominal", "scale": {"domain": ["n", "s", "l"], "range": ["M0,-0.21L0.25,0.21L-0.25,0.21Z", "M-0.22,0A0.22,0.22,0,1,0,0.22,0A0.22,0.22,0,1,0,-0.22,0Z", "M-1,-0.065H-0.57V0.065H-1Z M-0.39,-0.065H0.02V0.065H-0.39Z M0.15,-0.065H0.57V0.065H0.15Z M0.86,-0.065H1V0.065H0.86Z"]}, "legend": {"title": null, "labelExpr": "datum.label == 'n' ? 'p > 0.05' : (datum.label == 's' ? 'p < 0.05' : '45-degree')"}},
                          "color": {"field": "g", "type": "nominal", "scale": {"domain": ["n", "s", "l"], "range": ["#6e6e6e", "#000000", "#000000"]}, "legend": {"title": null, "labelExpr": "datum.label == 'n' ? 'p > 0.05' : (datum.label == 's' ? 'p < 0.05' : '45-degree')"}}}}
          ]
        },
        {
          "width": 409, "height": 409,
          "title": {"text": "Black & Hispanic Students", "fontSize": 21, "font": "Liberation Sans", "fontWeight": "normal", "color": "black", "offset": 2},
          "layer": [
            {"data": {"name": "diag"}, "mark": {"type": "line", "color": "black", "strokeWidth": 3.5, "strokeDash": [9, 5]},
             "encoding": {"x": {"field": "x", "type": "quantitative", "scale": {"domain": [-15.77, 15.77], "nice": false, "zero": false}, "axis": {"values": [-15, -10, -5, 0, 5, 10, 15]}, "title": "VA for low-income"},
                          "y": {"field": "y", "type": "quantitative", "scale": {"domain": [-15.77, 15.77], "nice": false, "zero": false}, "axis": {"values": [-15, -10, -5, 0, 5, 10, 15]}, "title": "VA for higher-income"}}},
            {"data": {"name": "maB"}, "mark": {"type": "point", "filled": true, "opacity": 1, "size": 3136, "strokeWidth": 0},
             "encoding": {"x": {"field": "x", "type": "quantitative"}, "y": {"field": "y", "type": "quantitative"},
                          "shape": {"field": "g", "type": "nominal", "scale": {"domain": ["n", "s", "l"], "range": ["M0,-0.21L0.25,0.21L-0.25,0.21Z", "M-0.22,0A0.22,0.22,0,1,0,0.22,0A0.22,0.22,0,1,0,-0.22,0Z", "M-1,-0.065H-0.57V0.065H-1Z M-0.39,-0.065H0.02V0.065H-0.39Z M0.15,-0.065H0.57V0.065H0.15Z M0.86,-0.065H1V0.065H0.86Z"]}, "legend": {"title": null, "labelExpr": "datum.label == 'n' ? 'p > 0.05' : (datum.label == 's' ? 'p < 0.05' : '45-degree')"}},
                          "color": {"field": "g", "type": "nominal", "scale": {"domain": ["n", "s", "l"], "range": ["#6e6e6e", "#000000", "#000000"]}, "legend": {"title": null, "labelExpr": "datum.label == 'n' ? 'p > 0.05' : (datum.label == 's' ? 'p < 0.05' : '45-degree')"}}}}
          ]
        }
      ],
      "spacing": 23,
      "resolve": {"legend": {"shape": "independent", "color": "independent"}}
    },
    {
      "title": {"text": "TEXAS", "font": "Liberation Serif", "fontSize": 31.7, "fontWeight": "normal", "color": "black", "anchor": "middle", "dx": 16, "offset": 5},
      "hconcat": [
        {
          "width": 409, "height": 409,
          "title": {"text": "White Students", "fontSize": 21, "font": "Liberation Sans", "fontWeight": "normal", "color": "black", "offset": 2},
          "layer": [
            {"data": {"name": "diag"}, "mark": {"type": "line", "color": "black", "strokeWidth": 3.5, "strokeDash": [9, 5]},
             "encoding": {"x": {"field": "x", "type": "quantitative", "scale": {"domain": [-15.77, 15.77], "nice": false, "zero": false}, "axis": {"values": [-15, -10, -5, 0, 5, 10, 15]}, "title": "VA for low-income"},
                          "y": {"field": "y", "type": "quantitative", "scale": {"domain": [-15.77, 15.77], "nice": false, "zero": false}, "axis": {"values": [-15, -10, -5, 0, 5, 10, 15]}, "title": "VA for higher-income"}}},
            {"data": {"name": "txW"}, "mark": {"type": "point", "filled": true, "opacity": 1, "size": 3136, "strokeWidth": 0},
             "encoding": {"x": {"field": "x", "type": "quantitative"}, "y": {"field": "y", "type": "quantitative"},
                          "shape": {"field": "g", "type": "nominal", "scale": {"domain": ["n", "s", "l"], "range": ["M0,-0.21L0.25,0.21L-0.25,0.21Z", "M-0.22,0A0.22,0.22,0,1,0,0.22,0A0.22,0.22,0,1,0,-0.22,0Z", "M-1,-0.065H-0.57V0.065H-1Z M-0.39,-0.065H0.02V0.065H-0.39Z M0.15,-0.065H0.57V0.065H0.15Z M0.86,-0.065H1V0.065H0.86Z"]}, "legend": {"title": null, "labelExpr": "datum.label == 'n' ? 'p > 0.05' : (datum.label == 's' ? 'p < 0.05' : '45-degree')"}},
                          "color": {"field": "g", "type": "nominal", "scale": {"domain": ["n", "s", "l"], "range": ["#6e6e6e", "#000000", "#000000"]}, "legend": {"title": null, "labelExpr": "datum.label == 'n' ? 'p > 0.05' : (datum.label == 's' ? 'p < 0.05' : '45-degree')"}}}}
          ]
        },
        {
          "width": 409, "height": 409,
          "title": {"text": "Black & Hispanic Students", "fontSize": 21, "font": "Liberation Sans", "fontWeight": "normal", "color": "black", "offset": 2},
          "layer": [
            {"data": {"name": "diag"}, "mark": {"type": "line", "color": "black", "strokeWidth": 3.5, "strokeDash": [9, 5]},
             "encoding": {"x": {"field": "x", "type": "quantitative", "scale": {"domain": [-15.77, 15.77], "nice": false, "zero": false}, "axis": {"values": [-15, -10, -5, 0, 5, 10, 15]}, "title": "VA for low-income"},
                          "y": {"field": "y", "type": "quantitative", "scale": {"domain": [-15.77, 15.77], "nice": false, "zero": false}, "axis": {"values": [-15, -10, -5, 0, 5, 10, 15]}, "title": "VA for higher-income"}}},
            {"data": {"name": "txB"}, "mark": {"type": "point", "filled": true, "opacity": 1, "size": 3136, "strokeWidth": 0},
             "encoding": {"x": {"field": "x", "type": "quantitative"}, "y": {"field": "y", "type": "quantitative"},
                          "shape": {"field": "g", "type": "nominal", "scale": {"domain": ["n", "s", "l"], "range": ["M0,-0.21L0.25,0.21L-0.25,0.21Z", "M-0.22,0A0.22,0.22,0,1,0,0.22,0A0.22,0.22,0,1,0,-0.22,0Z", "M-1,-0.065H-0.57V0.065H-1Z M-0.39,-0.065H0.02V0.065H-0.39Z M0.15,-0.065H0.57V0.065H0.15Z M0.86,-0.065H1V0.065H0.86Z"]}, "legend": {"title": null, "labelExpr": "datum.label == 'n' ? 'p > 0.05' : (datum.label == 's' ? 'p < 0.05' : '45-degree')"}},
                          "color": {"field": "g", "type": "nominal", "scale": {"domain": ["n", "s", "l"], "range": ["#6e6e6e", "#000000", "#000000"]}, "legend": {"title": null, "labelExpr": "datum.label == 'n' ? 'p > 0.05' : (datum.label == 's' ? 'p < 0.05' : '45-degree')"}}}}
          ]
        }
      ],
      "spacing": 23,
      "resolve": {"legend": {"shape": "independent", "color": "independent"}}
    }
  ],
  "spacing": 12,
  "resolve": {"legend": {"shape": "independent", "color": "independent"}},
  "config": {
    "view": {"stroke": "#111111", "strokeWidth": 2},
    "axis": {"domain": false, "grid": false, "ticks": true, "tickColor": "#111111", "tickWidth": 1.5, "tickSize": 6, "labelFont": "Liberation Sans", "labelFontSize": 15, "labelColor": "#111111", "labelPadding": 4, "labelExpr": "datum.value < 0 ? '-' + abs(datum.value) : '' + datum.value", "titleFont": "Liberation Sans", "titleFontSize": 21, "titleFontWeight": "normal", "titleColor": "#111111"},
    "axisX": {"titlePadding": 15},
    "axisY": {"labelAngle": 270, "labelAlign": "center", "labelBaseline": "bottom", "labelPadding": 3, "titlePadding": 13},
    "legend": {"orient": "bottom-right", "offset": 15, "padding": 4, "strokeColor": "#111111", "fillColor": "white", "labelFont": "Liberation Sans", "labelFontSize": 15, "labelColor": "#111111", "symbolSize": 3136, "symbolStrokeWidth": 0, "symbolOpacity": 1, "symbolOffset": 4, "labelOffset": 17, "clipHeight": 22, "rowPadding": 2}
  }
}
